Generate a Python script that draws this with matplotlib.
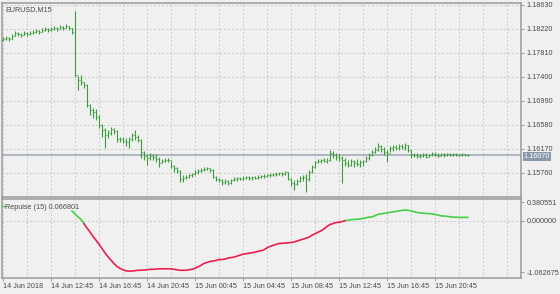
import matplotlib
matplotlib.use("Agg")
import matplotlib.pyplot as plt
import matplotlib.transforms as mtransforms
from matplotlib.collections import LineCollection
import numpy as np

plt.rcParams['font.family'] = ['Liberation Sans', 'DejaVu Sans']

# ---------------- data ----------------
symbol_title = "EURUSD,M15"
indicator_title = "Repulse (15) 0.066801"
last_price = 1.16070

opens = [1.18032, 1.18049, 1.18066, 1.18049, 1.18100, 1.18152, 1.18135, 1.18117, 1.18152, 1.18135,
         1.18152, 1.18169, 1.18186, 1.18169, 1.18203, 1.18220, 1.18203, 1.18220, 1.18237, 1.18220,
         1.18254, 1.18237, 1.18271, 1.18237, 1.18169, 1.17434, 1.17349, 1.17315, 1.17263, 1.16922,
         1.16836, 1.16802, 1.16717, 1.16580, 1.16495, 1.16409, 1.16443, 1.16512, 1.16478, 1.16341,
         1.16341, 1.16307, 1.16290, 1.16341, 1.16409, 1.16375, 1.16324, 1.16119, 1.16051, 1.16016,
         1.16051, 1.16034, 1.15999, 1.15931, 1.15965, 1.15982, 1.15982, 1.15880, 1.15845, 1.15794,
         1.15657, 1.15674, 1.15692, 1.15726, 1.15743, 1.15777, 1.15794, 1.15811, 1.15828, 1.15845,
         1.15811, 1.15692, 1.15657, 1.15640, 1.15606, 1.15623, 1.15589, 1.15640, 1.15657, 1.15674,
         1.15657, 1.15674, 1.15692, 1.15674, 1.15692, 1.15674, 1.15692, 1.15709, 1.15709, 1.15726,
         1.15726, 1.15743, 1.15743, 1.15760, 1.15743, 1.15777, 1.15657, 1.15589, 1.15572, 1.15623,
         1.15674, 1.15692, 1.15657, 1.15777, 1.15863, 1.15948, 1.15965, 1.15982, 1.15965, 1.15982,
         1.16102, 1.16068, 1.16034, 1.16016, 1.15982, 1.15931, 1.15897, 1.15965, 1.15931, 1.15914,
         1.15948, 1.15965, 1.16016, 1.16068, 1.16119, 1.16153, 1.16221, 1.16170, 1.16119, 1.16102,
         1.16187, 1.16204, 1.16187, 1.16221, 1.16204, 1.16238, 1.16153, 1.16068, 1.16068, 1.16051,
         1.16051, 1.16068, 1.16034, 1.16068, 1.16085, 1.16068, 1.16051, 1.16085, 1.16068, 1.16085,
         1.16068, 1.16085, 1.16068, 1.16068, 1.16085, 1.16068]
highs = [1.18083, 1.18100, 1.18083, 1.18135, 1.18186, 1.18169, 1.18152, 1.18186, 1.18169, 1.18186,
         1.18203, 1.18220, 1.18203, 1.18237, 1.18254, 1.18237, 1.18254, 1.18271, 1.18254, 1.18288,
         1.18271, 1.18305, 1.18271, 1.18237, 1.18527, 1.17417, 1.17434, 1.17315, 1.17280, 1.16939,
         1.16870, 1.16853, 1.16751, 1.16597, 1.16529, 1.16495, 1.16546, 1.16529, 1.16495, 1.16375,
         1.16375, 1.16358, 1.16375, 1.16443, 1.16495, 1.16409, 1.16341, 1.16136, 1.16068, 1.16102,
         1.16085, 1.16085, 1.16034, 1.15999, 1.16016, 1.16016, 1.15965, 1.15897, 1.15863, 1.15811,
         1.15726, 1.15726, 1.15743, 1.15760, 1.15811, 1.15828, 1.15845, 1.15863, 1.15863, 1.15845,
         1.15828, 1.15709, 1.15674, 1.15657, 1.15657, 1.15640, 1.15657, 1.15692, 1.15692, 1.15692,
         1.15709, 1.15709, 1.15709, 1.15709, 1.15709, 1.15726, 1.15726, 1.15743, 1.15743, 1.15760,
         1.15760, 1.15777, 1.15777, 1.15777, 1.15794, 1.15777, 1.15674, 1.15640, 1.15657, 1.15709,
         1.15726, 1.15743, 1.15811, 1.15897, 1.15965, 1.15999, 1.15999, 1.16016, 1.16016, 1.16153,
         1.16136, 1.16102, 1.16085, 1.16051, 1.16016, 1.15982, 1.15999, 1.15982, 1.15999, 1.15982,
         1.15982, 1.16051, 1.16102, 1.16153, 1.16204, 1.16273, 1.16238, 1.16204, 1.16153, 1.16221,
         1.16238, 1.16238, 1.16255, 1.16255, 1.16273, 1.16238, 1.16153, 1.16102, 1.16102, 1.16085,
         1.16102, 1.16102, 1.16085, 1.16119, 1.16119, 1.16102, 1.16102, 1.16102, 1.16102, 1.16102,
         1.16102, 1.16102, 1.16085, 1.16102, 1.16085, 1.16085]
lows = [1.18015, 1.18032, 1.18015, 1.18049, 1.18100, 1.18100, 1.18083, 1.18117, 1.18100, 1.18117,
        1.18135, 1.18152, 1.18135, 1.18169, 1.18186, 1.18169, 1.18186, 1.18203, 1.18186, 1.18220,
        1.18203, 1.18237, 1.18203, 1.18135, 1.17400, 1.17178, 1.17263, 1.17212, 1.16888, 1.16751,
        1.16699, 1.16665, 1.16529, 1.16375, 1.16187, 1.16358, 1.16409, 1.16426, 1.16290, 1.16290,
        1.16273, 1.16221, 1.16187, 1.16307, 1.16324, 1.16290, 1.16016, 1.15982, 1.15897, 1.15982,
        1.15982, 1.15948, 1.15863, 1.15931, 1.15948, 1.15948, 1.15845, 1.15777, 1.15760, 1.15606,
        1.15606, 1.15657, 1.15674, 1.15692, 1.15726, 1.15743, 1.15777, 1.15794, 1.15811, 1.15777,
        1.15674, 1.15623, 1.15606, 1.15555, 1.15572, 1.15555, 1.15572, 1.15623, 1.15623, 1.15640,
        1.15640, 1.15657, 1.15640, 1.15640, 1.15657, 1.15657, 1.15674, 1.15674, 1.15692, 1.15692,
        1.15709, 1.15709, 1.15726, 1.15709, 1.15726, 1.15640, 1.15538, 1.15470, 1.15555, 1.15606,
        1.15623, 1.15435, 1.15623, 1.15760, 1.15845, 1.15931, 1.15931, 1.15948, 1.15931, 1.15965,
        1.16016, 1.15982, 1.15965, 1.15589, 1.15880, 1.15863, 1.15880, 1.15863, 1.15880, 1.15863,
        1.15880, 1.15948, 1.15982, 1.16051, 1.16102, 1.16136, 1.16119, 1.16068, 1.15948, 1.16119,
        1.16136, 1.16153, 1.16153, 1.16170, 1.16153, 1.16119, 1.16016, 1.16034, 1.16016, 1.16016,
        1.16034, 1.16016, 1.16034, 1.16051, 1.16051, 1.16034, 1.16051, 1.16034, 1.16051, 1.16051,
        1.16051, 1.16051, 1.16051, 1.16051, 1.16051, 1.16051]
closes = [1.18049, 1.18066, 1.18049, 1.18100, 1.18152, 1.18135, 1.18117, 1.18152, 1.18135, 1.18152,
          1.18169, 1.18186, 1.18169, 1.18203, 1.18220, 1.18203, 1.18220, 1.18237, 1.18220, 1.18254,
          1.18237, 1.18271, 1.18237, 1.18169, 1.17434, 1.17349, 1.17315, 1.17263, 1.16922, 1.16836,
          1.16802, 1.16717, 1.16580, 1.16495, 1.16409, 1.16443, 1.16512, 1.16478, 1.16341, 1.16341,
          1.16307, 1.16290, 1.16341, 1.16409, 1.16375, 1.16324, 1.16119, 1.16051, 1.16016, 1.16051,
          1.16034, 1.15999, 1.15931, 1.15965, 1.15982, 1.15982, 1.15880, 1.15845, 1.15794, 1.15657,
          1.15674, 1.15692, 1.15726, 1.15743, 1.15777, 1.15794, 1.15811, 1.15828, 1.15845, 1.15811,
          1.15692, 1.15657, 1.15640, 1.15606, 1.15623, 1.15589, 1.15640, 1.15657, 1.15674, 1.15657,
          1.15674, 1.15692, 1.15674, 1.15692, 1.15674, 1.15692, 1.15709, 1.15709, 1.15726, 1.15726,
          1.15743, 1.15743, 1.15760, 1.15743, 1.15777, 1.15657, 1.15589, 1.15572, 1.15623, 1.15674,
          1.15692, 1.15657, 1.15777, 1.15863, 1.15948, 1.15965, 1.15982, 1.15965, 1.15982, 1.16102,
          1.16068, 1.16034, 1.16016, 1.15982, 1.15931, 1.15897, 1.15965, 1.15931, 1.15914, 1.15948,
          1.15965, 1.16016, 1.16068, 1.16119, 1.16153, 1.16221, 1.16170, 1.16119, 1.16102, 1.16187,
          1.16204, 1.16187, 1.16221, 1.16204, 1.16238, 1.16153, 1.16068, 1.16068, 1.16051, 1.16051,
          1.16068, 1.16034, 1.16068, 1.16085, 1.16068, 1.16051, 1.16085, 1.16068, 1.16085, 1.16068,
          1.16085, 1.16068, 1.16068, 1.16085, 1.16068, 1.16070]

repulse_start = 23
repulse = [0.20, 0.14, 0.08, 0.03, -0.06, -0.15, -0.23, -0.32, -0.40, -0.48,
           -0.57, -0.66, -0.74, -0.81, -0.88, -0.94, -0.98, -1.01, -1.03, -1.04,
           -1.035, -1.03, -1.02, -1.02, -1.015, -1.01, -1.00, -1.00, -0.995, -0.99,
           -0.99, -0.99, -0.99, -0.99, -1.00, -1.01, -1.02, -1.02, -1.02, -1.01,
           -1.00, -0.98, -0.95, -0.92, -0.88, -0.86, -0.84, -0.83, -0.82, -0.80,
           -0.80, -0.79, -0.77, -0.76, -0.75, -0.73, -0.71, -0.69, -0.68, -0.67,
           -0.66, -0.65, -0.63, -0.62, -0.60, -0.56, -0.53, -0.51, -0.49, -0.47,
           -0.465, -0.46, -0.455, -0.45, -0.44, -0.42, -0.40, -0.38, -0.36, -0.34,
           -0.30, -0.27, -0.24, -0.21, -0.17, -0.12, -0.08, -0.06, -0.04, -0.03,
           -0.02, 0.00, 0.01, 0.02, 0.025, 0.03, 0.035, 0.045, 0.06, 0.07,
           0.08, 0.10, 0.13, 0.14, 0.15, 0.16, 0.17, 0.18, 0.19, 0.20,
           0.21, 0.22, 0.215, 0.20, 0.185, 0.17, 0.16, 0.155, 0.15, 0.145,
           0.14, 0.13, 0.115, 0.10, 0.095, 0.09, 0.08, 0.075, 0.07, 0.068,
           0.067, 0.067, 0.066801]

price_ticks = [1.18630, 1.18220, 1.17810, 1.17400, 1.16990, 1.16580, 1.16170, 1.15760]
ind_ticks = [0.380551, 0.000000, -1.062675]
time_labels = ["14 Jun 2018", "14 Jun 12:45", "14 Jun 16:45", "14 Jun 20:45", "15 Jun 00:45",
               "15 Jun 04:45", "15 Jun 08:45", "15 Jun 12:45", "15 Jun 16:45", "15 Jun 20:45"]
label_step = 16
grid_step = 8

# ---------------- style ----------------
BG = '#f0f0f0'
SPINE = '#9a9a9a'
GRID = '#c9c9c9'
TXT = '#4a4a4a'
BAR = '#3a9c3a'
UPC = '#44d044'
DNC = '#e8204e'
FS = 5.2
DASH = (0, (2, 2))

fig = plt.figure(figsize=(5.6, 2.94), dpi=100, facecolor=BG)
W, H = 560.0, 294.0
ax = fig.add_axes([2 / W, 1 - 197 / H, 519 / W, 194 / H], facecolor=BG)
ax2 = fig.add_axes([2 / W, 1 - 277.7 / H, 519 / W, 79.2 / H], facecolor=BG)

n = len(closes)
xmin, xmax = -0.3, 519 / 3 - 0.3

for a in (ax, ax2):
    a.set_xlim(xmin, xmax)
    for s in a.spines.values():
        s.set_color(SPINE)
        s.set_linewidth(1.1)
    for gx in range(0, int(xmax) + 1, grid_step):
        a.axvline(gx, color=GRID, lw=0.7, ls=DASH, zorder=0)
    a.tick_params(axis='y', which='both', left=False, labelleft=False,
                  right=True, labelright=True, direction='out', length=2.5,
                  width=0.7, color=SPINE, labelsize=FS, labelcolor=TXT, pad=1.5)

# main price panel
ax.set_ylim(1.15350, 1.18664)
for p in price_ticks:
    ax.axhline(p, color=GRID, lw=0.7, ls=DASH, zorder=0)
ax.set_yticks(price_ticks)
ax.set_yticklabels([f"{p:.5f}" for p in price_ticks])
ax.tick_params(axis='x', bottom=False, labelbottom=False)

segs = []
for i in range(n):
    segs.append([(i, lows[i]), (i, highs[i])])
    segs.append([(i - 0.45, opens[i]), (i, opens[i])])
    segs.append([(i, closes[i]), (i + 0.45, closes[i])])
ax.add_collection(LineCollection(segs, colors=BAR, linewidths=0.8, zorder=3))

ax.axhline(last_price, color='#a3acba', lw=1.2, zorder=2)
trans = mtransforms.blended_transform_factory(ax.transAxes, ax.transData)
trans = trans + mtransforms.ScaledTranslation(0, -1.5 / 100, fig.dpi_scale_trans)
ax.text(1.005, last_price, f"{last_price:.5f}", transform=trans, ha='left', va='center',
        fontsize=FS, color='white', zorder=5,
        bbox=dict(boxstyle='square,pad=0.12', facecolor='#8a99aa', edgecolor='none'))
ax.text(0.006, 0.985, symbol_title, transform=ax.transAxes, ha='left', va='top',
        fontsize=FS, color=TXT)

# indicator panel
ax2.set_ylim(-1.173, 0.456)
ax2.axhline(0.0, color=GRID, lw=0.7, ls=DASH, zorder=0)
ax2.set_yticks(ind_ticks)
ax2.set_yticklabels([f"{v:.6f}" for v in ind_ticks])
ax2.set_xticks(list(range(0, n, label_step))[:len(time_labels)])
ax2.set_xticklabels(time_labels)
ax2.tick_params(axis='x', direction='out', length=2.5, width=0.7, color=SPINE,
                labelsize=FS, labelcolor=TXT, pad=1.5)
for lab in ax2.get_xticklabels():
    lab.set_horizontalalignment('left')

rx = np.arange(repulse_start, repulse_start + len(repulse))
rv = np.array(repulse)
pos = rv >= 0
for mask, col in ((pos, UPC), (~pos, DNC)):
    ext = mask.copy()
    ext[1:] |= mask[:-1]
    y = np.where(ext, rv, np.nan)
    ax2.plot(rx, y, color=col, lw=1.2, zorder=3, solid_capstyle='round')

ax2.plot([-0.3, 0.6], [0.30, 0.30], color=UPC, lw=1.0)
ax2.text(0.006, 0.93, indicator_title, transform=ax2.transAxes, ha='left', va='top',
         fontsize=FS, color=TXT)

fig.savefig('out.png', dpi=100, facecolor=BG)
